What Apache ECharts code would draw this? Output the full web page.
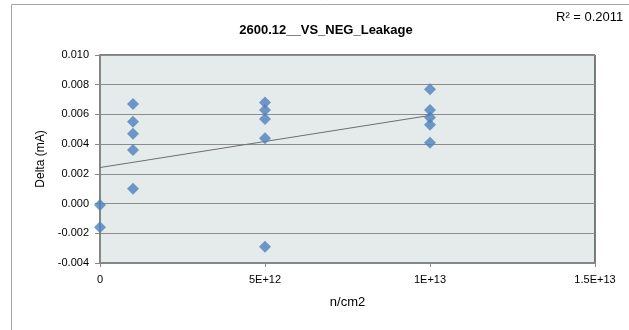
<!DOCTYPE html>
<html><head><meta charset="utf-8">
<script src="https://cdn.jsdelivr.net/npm/echarts@6/dist/echarts.min.js"></script>
<style>html,body{margin:0;padding:0;background:#fff}#c{width:629px;height:330px}</style>
</head><body><div id="c"></div>
<script>
var title = '2600.12__VS_NEG_Leakage';
var rSquaredText = 'R² = 0.2011';
var xName = 'n/cm2';
var yName = 'Delta (mA)';
var fluence = [0, 0, 1e12, 1e12, 1e12, 1e12, 1e12, 5e12, 5e12, 5e12, 5e12, 5e12, 1e13, 1e13, 1e13, 1e13, 1e13];
var delta = [-0.0001, -0.0016, 0.0067, 0.0055, 0.0047, 0.0036, 0.0010, 0.0068, 0.0063, 0.0057, 0.0044, -0.0029, 0.0077, 0.0063, 0.0058, 0.0053, 0.0041];
var xTickValues = [0, 5e12, 1e13, 1.5e13];
var xTickLabels = ['0', '5E+12', '1E+13', '1.5E+13'];

var pts = fluence.map(function (x, i) { return [x, delta[i]]; });
// least-squares trendline
var n = fluence.length, sx = 0, sy = 0, sxx = 0, sxy = 0;
for (var i = 0; i < n; i++) { sx += fluence[i]; sy += delta[i]; sxx += fluence[i] * fluence[i]; sxy += fluence[i] * delta[i]; }
var slope = (n * sxy - sx * sy) / (n * sxx - sx * sx);
var intercept = (sy - slope * sx) / n;
var xMin = Math.min.apply(null, fluence), xMax = Math.max.apply(null, fluence);
var trend = [[xMin, intercept + slope * xMin], [xMax, intercept + slope * xMax]];

var font = 'Liberation Sans';
var chart = echarts.init(document.getElementById('c'), null, { renderer: 'canvas' });
chart.setOption({
  animation: false,
  backgroundColor: '#ffffff',
  graphic: [
    { type: 'rect', shape: { x: 11.5, y: 4.5, width: 700, height: 400 }, style: { fill: 'none', stroke: '#a6a6a6', lineWidth: 1 }, z: -10 },
    { type: 'text', left: 556, top: 11, style: { text: rSquaredText, font: '13px "' + font + '"', fill: '#000' } }
  ],
  title: {
    text: title, left: 321, top: 19, textAlign: 'center',
    textStyle: { fontFamily: font, fontSize: 13, fontWeight: 'bold', color: '#000' }
  },
  grid: {
    left: 100, right: 34, top: 55, bottom: 67, show: true,
    backgroundColor: '#e5ebeb', borderColor: '#000', borderWidth: 1
  },
  xAxis: {
    type: 'value', min: 0, max: 1.5e13, interval: 5e12,
    name: xName, nameLocation: 'middle', nameGap: 33,
    nameTextStyle: { fontFamily: font, fontSize: 13, color: '#000' },
    axisLine: { show: true, onZero: false, lineStyle: { color: '#868686', width: 2 } },
    axisTick: { show: true, length: 4, inside: false, lineStyle: { color: '#868686' } },
    axisLabel: {
      fontFamily: font, fontSize: 11, color: '#000', margin: 11,
      formatter: function (v) { var k = xTickValues.indexOf(v); return k >= 0 ? xTickLabels[k] : ''; }
    },
    splitLine: { show: false }
  },
  yAxis: {
    type: 'value', min: -0.004, max: 0.010, interval: 0.002,
    name: yName, nameLocation: 'middle', nameGap: 52, nameRotate: 90,
    nameTextStyle: { fontFamily: font, fontSize: 12, color: '#000' },
    axisLine: { show: true, onZero: false, lineStyle: { color: '#868686', width: 2 } },
    axisTick: { show: true, length: 5, lineStyle: { color: '#868686' } },
    axisLabel: {
      fontFamily: font, fontSize: 11, color: '#000', margin: 11,
      formatter: function (v) { return v.toFixed(3); }
    },
    splitLine: { show: true, lineStyle: { color: '#8c8c8c', width: 1 } }
  },
  series: [
    {
      type: 'line', data: trend, symbol: 'none', z: 3,
      lineStyle: { color: '#6e6e6e', width: 1 }
    },
    {
      type: 'scatter', data: pts, symbol: 'diamond', symbolSize: 12, z: 4,
      itemStyle: { color: '#4f81bd' }
    }
  ]
});
</script></body></html>
